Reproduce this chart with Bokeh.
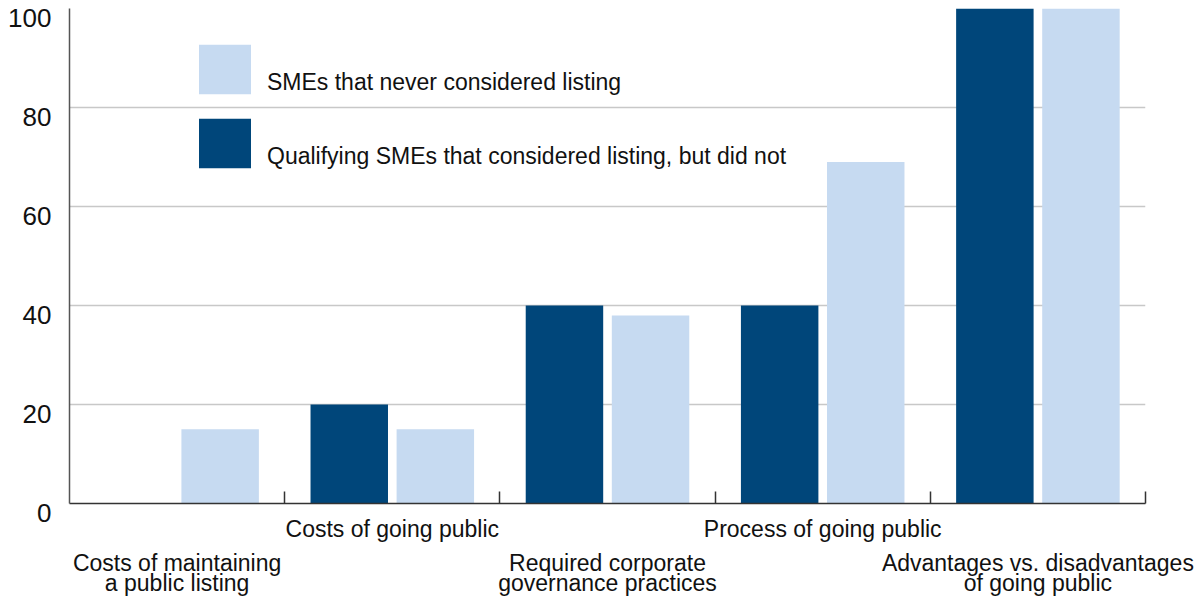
from bokeh.plotting import figure
from bokeh.models import (ColumnDataSource, Range1d, Legend, LegendItem,
                          LinearAxis, FixedTicker)
from bokeh.transform import dodge
from bokeh.embed import file_html
from bokeh.resources import INLINE

# ---- data ----
categories = [
    "Costs of maintaining a public listing",
    "Costs of going public",
    "Required corporate governance practices",
    "Process of going public",
    "Advantages vs. disadvantages of going public",
]
category_labels = [
    "Costs of maintaining\na public listing",
    "Costs of going public",
    "Required corporate\ngovernance practices",
    "Process of going public",
    "Advantages vs. disadvantages\nof going public",
]
label_row = [2, 1, 2, 1, 2]
qualifying_considered = [0, 20, 40, 40, 100]
never_considered = [15, 15, 38, 69, 100]
series_names = ["SMEs that never considered listing",
                "Qualifying SMEs that considered listing, but did not"]
y_ticks = [0, 20, 40, 60, 80, 100]

DARK = "#00467a"
LIGHT = "#c6daf1"
FONT = "Liberation Sans"
TXT = "#111111"
LABEL_DROP = 1.9   # y tick labels hang slightly below their grid lines (data units)

n = len(categories)
centers = [i + 0.5 for i in range(n)]  # category slot centres on a numeric scale
src = ColumnDataSource(dict(xc=centers, cat=categories,
                            dark=qualifying_considered, light=never_considered))

p = figure(width=1200, height=599, output_backend="svg", toolbar_location=None,
           x_range=Range1d(0, n), y_range=Range1d(0, 100),
           x_axis_location=None, y_axis_location=None,
           min_border_left=69, min_border_right=55, min_border_top=8, min_border_bottom=96)
p.outline_line_color = None
p.background_fill_color = "white"
p.border_fill_color = "white"
p.extra_y_ranges = {"ylab": Range1d(LABEL_DROP, 100 + LABEL_DROP)}

# y axis: labels hang just below the grid lines; the zero label sits on the frame edge
ylab_ticks = [max(t, LABEL_DROP) for t in y_ticks]
ylab = LinearAxis(y_range_name="ylab", ticker=FixedTicker(ticks=ylab_ticks))
ylab.axis_line_color = "#555555"
ylab.axis_line_width = 1.5
ylab.major_tick_line_color = None
ylab.major_tick_out = 0
ylab.major_tick_in = 0
ylab.minor_tick_line_color = None
ylab.major_label_text_font = FONT
ylab.major_label_text_font_size = "26px"
ylab.major_label_text_color = TXT
ylab.major_label_standoff = 18
ylab.major_label_text_line_height = 0.6
ylab.major_label_overrides = {lt: (str(t) if lt == t else "\n" + str(t))
                              for lt, t in zip(ylab_ticks, y_ticks)}
p.add_layout(ylab, "left")

p.ygrid.ticker = FixedTicker(ticks=y_ticks)
p.ygrid.grid_line_color = "#c8c8c8"
p.ygrid.grid_line_width = 1.5
p.xgrid.grid_line_color = None

# bars
r_dark = p.vbar(x=dodge("xc", -0.2), top="dark", width=0.36, source=src,
                fill_color=DARK, line_color=None)
r_light = p.vbar(x=dodge("xc", 0.2), top="light", width=0.36, source=src,
                 fill_color=LIGHT, line_color=None)

# boundary axis (ticks between categories)
bax = LinearAxis(ticker=FixedTicker(ticks=list(range(1, n + 1))))
bax.axis_line_color = "#333333"
bax.axis_line_width = 1.5
bax.major_tick_line_color = "#333333"
bax.major_tick_line_width = 1.5
bax.major_tick_in = 12
bax.major_tick_out = 0
bax.minor_tick_line_color = None
bax.major_label_standoff = 0
bax.major_label_overrides = {i: "" for i in range(0, n + 1)}
bax.major_label_text_font_size = "1px"
p.add_layout(bax, "below")

# category label rows
for row, standoff in ((1, 12), (2, 5)):
    ax = LinearAxis(ticker=FixedTicker(ticks=centers))
    ax.axis_line_color = None
    ax.major_tick_line_color = None
    ax.major_tick_out = 0
    ax.major_tick_in = 0
    ax.minor_tick_line_color = None
    ax.major_label_standoff = standoff
    ax.major_label_text_font = FONT
    ax.major_label_text_font_size = "23px"
    ax.major_label_text_color = TXT
    ax.major_label_text_line_height = 0.79
    ax.major_label_overrides = {c: (lab if r == row else "")
                                for c, lab, r in zip(centers, category_labels, label_row)}
    p.add_layout(ax, "below")

legend = Legend(items=[LegendItem(label="\n" + series_names[0], renderers=[r_light]),
                       LegendItem(label="\n" + series_names[1], renderers=[r_dark])],
                location=(123, 329), orientation="vertical")
legend.glyph_width = 65
legend.glyph_height = 62
legend.label_standoff = 10
legend.spacing = 12
legend.padding = 0
legend.margin = 0
legend.border_line_color = None
legend.background_fill_alpha = 0
legend.label_text_font = FONT
legend.label_text_font_size = "23px"
legend.label_text_color = TXT
p.add_layout(legend, "center")

open("out.html", "w").write(file_html(p, INLINE))
